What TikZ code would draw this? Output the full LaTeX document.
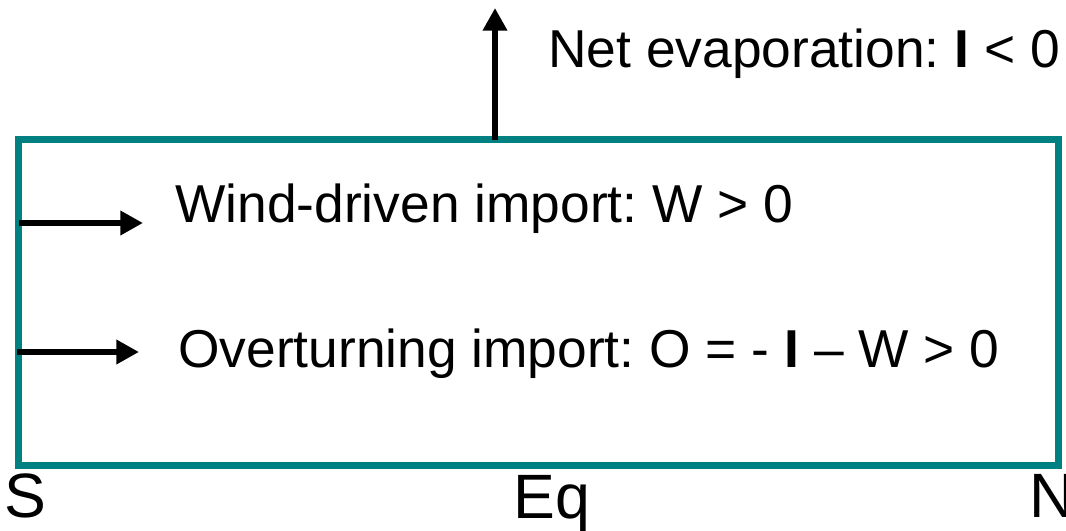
\documentclass[tikz,border=0pt]{standalone}
\usepackage{fontspec}
\setmainfont{Liberation Sans}
\usetikzlibrary{arrows.meta}

\definecolor{basinteal}{RGB}{0,128,128}

\tikzset{
  basinbox/.style={draw=basinteal, line width=5.25pt, inner sep=0pt,
    minimum width=779.6pt, minimum height=243.75pt},
  flux/.style={line width=5pt,
    -{Triangle[length=17pt, width=17.5pt]}},
  label/.style={anchor=base west, inner sep=0pt, font=\fontsize{40pt}{44pt}\selectfont\frenchspacing},
  axislabel/.style={anchor=base west, inner sep=0pt, font=\fontsize{47pt}{50pt}\selectfont}
}

\begin{document}
\begin{tikzpicture}[x=0.75pt, y=-0.75pt]
  \useasboundingbox (0,0) rectangle (1066,531);

  % basin box
  \node[basinbox] (basin) at (538.25,302.5) {};

  % flux arrows
  \coordinate (evapfoot) at (495,140);
  \coordinate (evaptip) at (495,8);
  \coordinate (windfoot) at (19,223);
  \coordinate (windtip) at (143,223);
  \coordinate (overfoot) at (17,352);
  \coordinate (overtip) at (139,352);

  \draw[flux] (evapfoot) -- (evaptip);
  \draw[flux] (windfoot) -- (windtip);
  \draw[flux] (overfoot) -- (overtip);

  % flux labels
  \node[label] (evaplabel) at (548,68) {Net evaporation: {\bfseries I} < 0};
  \node[label] (windlabel) at (175,222) {Wind-driven import: W > 0};
  \node[label] (overlabel) at (178,367) {Overturning import: O = - {\bfseries I} \textendash{} W > 0};

  % latitude labels
  \node[axislabel] (south) at (4,517) {S};
  \node[axislabel] (equator) at (513,518) {Eq};
  \node[axislabel] (north) at (1029,517) {N};
\end{tikzpicture}
\end{document}
